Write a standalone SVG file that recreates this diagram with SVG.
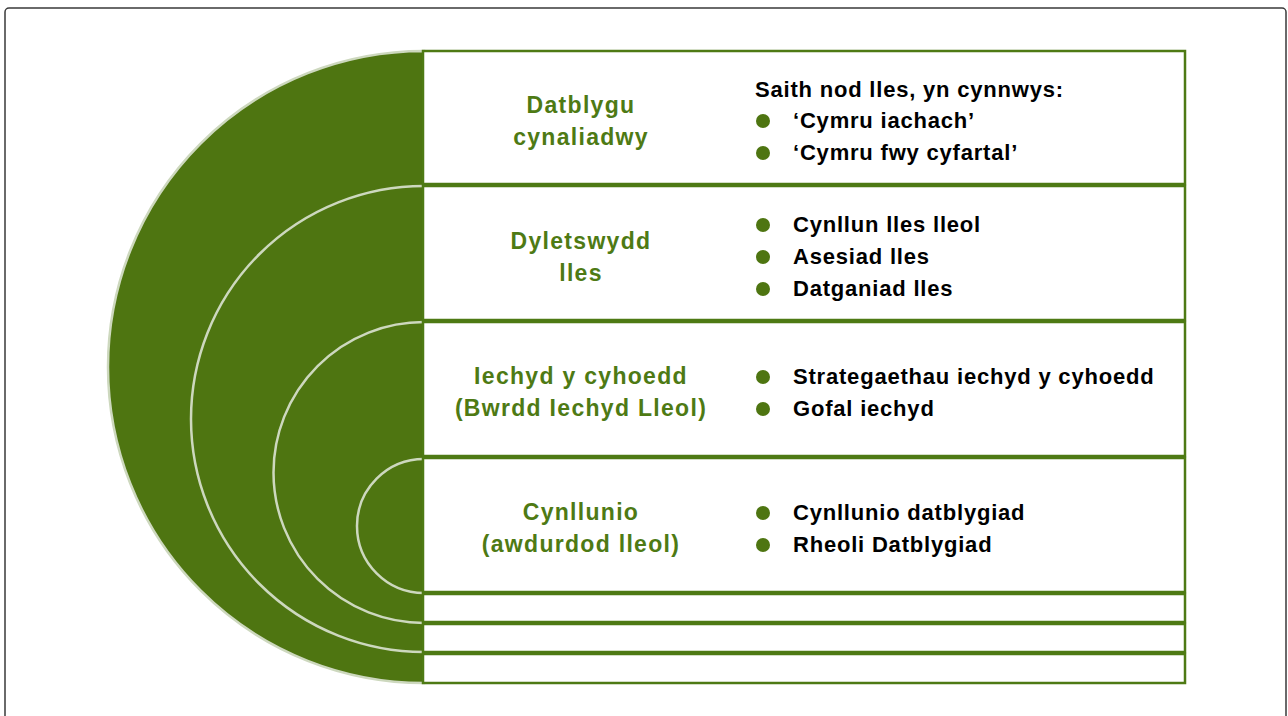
<svg xmlns="http://www.w3.org/2000/svg" width="1288" height="716" viewBox="0 0 1288 716">
<style>
.arc{fill:#4e7511;stroke:#cdd8be;stroke-width:2.5}
.box{fill:#ffffff;stroke:#4e7a14;stroke-width:2.5}
.lbl{font-family:"Liberation Sans",Arial,sans-serif;font-weight:bold;font-size:23px;letter-spacing:1.3px;fill:#4e7a14;text-anchor:middle}
.itm{font-family:"Liberation Sans",Arial,sans-serif;font-weight:bold;font-size:22px;letter-spacing:0.8px;fill:#000000}
.dot{fill:#4e7511}
</style>
<rect x="5" y="8" width="1281" height="730" rx="4" fill="#ffffff" stroke="#3a3a3a" stroke-width="1.5"/>
<g id="rings">
<path class="arc" d="M424 51 A316 316 0 0 0 424 683 Z"/>
<path class="arc" d="M424 186 A233 233 0 0 0 424 652"/>
<path class="arc" d="M424 322 A150.5 150.5 0 0 0 424 623"/>
<path class="arc" d="M424 459 A67 67 0 0 0 424 593"/>
</g>
<g id="row1">
<rect class="box" x="423" y="51" width="762" height="133"/>
<text class="lbl" x="581" y="113">Datblygu</text>
<text class="lbl" x="581" y="145">cynaliadwy</text>
<text class="itm" x="755" y="97">Saith nod lles, yn cynnwys:</text>
<circle class="dot" cx="763" cy="121" r="7"/>
<text class="itm" x="793" y="128">‘Cymru iachach’</text>
<circle class="dot" cx="763" cy="153" r="7"/>
<text class="itm" x="793" y="160">‘Cymru fwy cyfartal’</text>
</g>
<g id="row2">
<rect class="box" x="423" y="186" width="762" height="134"/>
<text class="lbl" x="581" y="249">Dyletswydd</text>
<text class="lbl" x="581" y="281">lles</text>
<circle class="dot" cx="763" cy="225" r="7"/>
<text class="itm" x="793" y="232">Cynllun lles lleol</text>
<circle class="dot" cx="763" cy="257" r="7"/>
<text class="itm" x="793" y="264">Asesiad lles</text>
<circle class="dot" cx="763" cy="289" r="7"/>
<text class="itm" x="793" y="296">Datganiad lles</text>
</g>
<g id="row3">
<rect class="box" x="423" y="322" width="762" height="134"/>
<text class="lbl" x="581" y="384">Iechyd y cyhoedd</text>
<text class="lbl" x="581" y="416">(Bwrdd Iechyd Lleol)</text>
<circle class="dot" cx="763" cy="377" r="7"/>
<text class="itm" x="793" y="384">Strategaethau iechyd y cyhoedd</text>
<circle class="dot" cx="763" cy="409" r="7"/>
<text class="itm" x="793" y="416">Gofal iechyd</text>
</g>
<g id="row4">
<rect class="box" x="423" y="458" width="762" height="134"/>
<text class="lbl" x="581" y="520">Cynllunio</text>
<text class="lbl" x="581" y="552">(awdurdod lleol)</text>
<circle class="dot" cx="763" cy="513" r="7"/>
<text class="itm" x="793" y="520">Cynllunio datblygiad</text>
<circle class="dot" cx="763" cy="545" r="7"/>
<text class="itm" x="793" y="552">Rheoli Datblygiad</text>
</g>
<g id="row5"><rect class="box" x="423" y="594" width="762" height="28"/></g>
<g id="row6"><rect class="box" x="423" y="624" width="762" height="28"/></g>
<g id="row7"><rect class="box" x="423" y="654" width="762" height="29"/></g>
</svg>
